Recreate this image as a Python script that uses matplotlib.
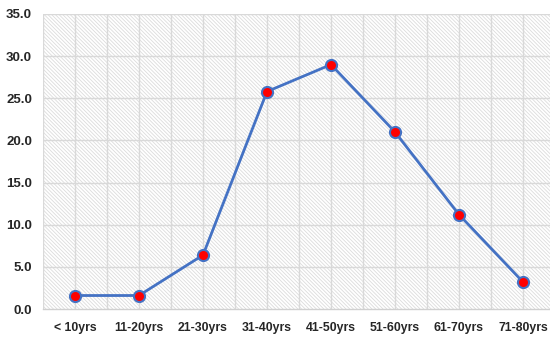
import matplotlib
matplotlib.use("Agg")
import matplotlib.pyplot as plt
import numpy as np

categories = ["< 10yrs", "11-20yrs", "21-30yrs", "31-40yrs", "41-50yrs", "51-60yrs", "61-70yrs", "71-80yrs"]
values = [1.6, 1.6, 6.4, 25.8, 29.0, 21.0, 11.2, 3.2]
yticks = [0, 5, 10, 15, 20, 25, 30, 35]

plt.rcParams['font.family'] = ['Liberation Sans', 'DejaVu Sans']
plt.rcParams['hatch.color'] = '#dcdcdc'
plt.rcParams['hatch.linewidth'] = 0.6

fig = plt.figure(figsize=(5.5, 3.38), dpi=100)
W, H = 550, 338
left, right, top, bottom = 43, 555, 14, 309
ax = fig.add_axes([left / W, 1 - bottom / H, (right - left) / W, (bottom - top) / H])

ax.patch.set_facecolor('white')
ax.patch.set_hatch('\\' * 9)
ax.patch.set_edgecolor('#dcdcdc')
ax.patch.set_linewidth(0)

x = np.arange(len(categories))
ax.set_xlim(-0.5, len(categories) - 0.5)
ax.set_ylim(0, 35)

# gridlines
for yv in yticks[1:]:
    ax.axhline(yv, color='#d9d9d9', lw=1.0, zorder=1)
for xv in np.arange(-0.5, len(categories), 0.5):
    ax.axvline(xv, color='#d9d9d9', lw=1.0, zorder=1)

ax.plot(x, values, color='#4472C4', lw=2, marker='o', markersize=8,
        markerfacecolor='#ff0000', markeredgecolor='#4472C4', markeredgewidth=1.5, zorder=3)

ax.set_xticks(x)
ax.set_xticklabels(categories, fontsize=8.8, fontweight='bold', color='#262626')
ax.set_yticks(yticks)
ax.set_yticklabels([f"{v:.1f}" for v in yticks], fontsize=9.5, fontweight='bold', color='#262626')
ax.tick_params(axis='both', length=0)
ax.tick_params(axis='x', pad=9)
ax.tick_params(axis='y', pad=8)

for s in ['top', 'right', 'left']:
    ax.spines[s].set_visible(False)
ax.spines['bottom'].set_color('#d0d0d0')
ax.spines['bottom'].set_linewidth(1.0)

fig.savefig('out.png', dpi=100)
